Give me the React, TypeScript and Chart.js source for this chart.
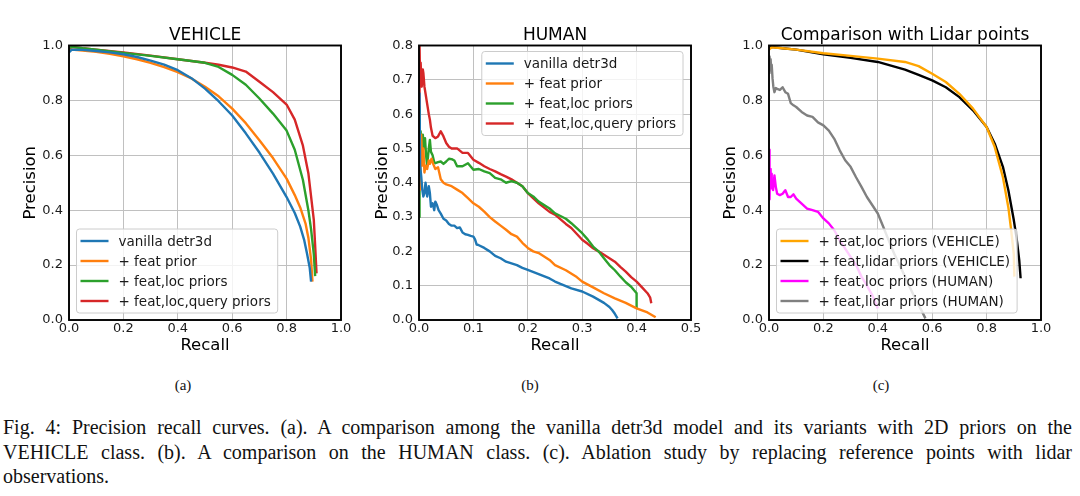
import React, { useEffect, useRef } from "react";
import { Chart, registerables } from "chart.js";

Chart.register(...registerables);
Chart.defaults.font.family = "'DejaVu Sans', sans-serif";

// ---------- (a) VEHICLE ----------
const vehVanillaR = [0, 0.01, 0.05, 0.1, 0.15, 0.2, 0.25, 0.3, 0.35, 0.4, 0.45, 0.5, 0.55, 0.6, 0.65, 0.7, 0.75, 0.8, 0.83, 0.85, 0.865, 0.875, 0.885, 0.89];
const vehVanillaP = [0.975, 0.985, 0.984, 0.98, 0.975, 0.968, 0.958, 0.945, 0.93, 0.91, 0.881, 0.843, 0.797, 0.745, 0.68, 0.61, 0.533, 0.448, 0.39, 0.34, 0.29, 0.242, 0.19, 0.14];
const vehFeatR = [0, 0.01, 0.05, 0.1, 0.15, 0.2, 0.25, 0.3, 0.35, 0.4, 0.45, 0.5, 0.55, 0.6, 0.65, 0.7, 0.75, 0.8, 0.83, 0.85, 0.87, 0.88, 0.89, 0.895];
const vehFeatP = [0.98, 0.985, 0.982, 0.977, 0.97, 0.961, 0.95, 0.937, 0.921, 0.903, 0.88, 0.85, 0.815, 0.77, 0.717, 0.655, 0.59, 0.515, 0.455, 0.41, 0.35, 0.3, 0.22, 0.14];
const vehLocR = [0, 0.01, 0.05, 0.1, 0.2, 0.3, 0.4, 0.5, 0.55, 0.6, 0.65, 0.7, 0.75, 0.8, 0.83, 0.86, 0.88, 0.89, 0.9, 0.905];
const vehLocP = [0.99, 0.995, 0.99, 0.985, 0.973, 0.962, 0.95, 0.937, 0.922, 0.893, 0.857, 0.807, 0.752, 0.69, 0.62, 0.51, 0.4, 0.33, 0.24, 0.16];
const vehQueryR = [0, 0.01, 0.05, 0.1, 0.2, 0.3, 0.4, 0.5, 0.55, 0.6, 0.65, 0.7, 0.75, 0.8, 0.83, 0.86, 0.88, 0.9, 0.905, 0.91];
const vehQueryP = [0.985, 0.995, 0.99, 0.985, 0.975, 0.963, 0.95, 0.937, 0.93, 0.92, 0.905, 0.868, 0.83, 0.785, 0.73, 0.635, 0.535, 0.365, 0.27, 0.17];

// ---------- (b) HUMAN ----------
const humVanillaR = [0, 0.001, 0.002, 0.004, 0.006, 0.008, 0.01, 0.012, 0.015, 0.018, 0.02, 0.022, 0.025, 0.028, 0.03, 0.033, 0.036, 0.04, 0.045, 0.05, 0.055, 0.06, 0.065, 0.07, 0.075, 0.08, 0.085, 0.09, 0.095, 0.1, 0.103, 0.106, 0.11, 0.12, 0.13, 0.14, 0.15, 0.16, 0.17, 0.18, 0.19, 0.2, 0.22, 0.24, 0.25, 0.26, 0.28, 0.3, 0.32, 0.34, 0.35, 0.355, 0.36, 0.365];
const humVanillaP = [0.5, 0.66, 0.45, 0.42, 0.38, 0.36, 0.37, 0.4, 0.36, 0.39, 0.37, 0.33, 0.34, 0.32, 0.345, 0.335, 0.32, 0.31, 0.295, 0.29, 0.28, 0.275, 0.275, 0.268, 0.27, 0.255, 0.25, 0.248, 0.245, 0.243, 0.235, 0.22, 0.218, 0.21, 0.2, 0.187, 0.18, 0.17, 0.165, 0.16, 0.152, 0.146, 0.134, 0.121, 0.112, 0.105, 0.092, 0.083, 0.068, 0.05, 0.038, 0.029, 0.018, 0.005];
const humFeatR = [0, 0.002, 0.004, 0.006, 0.008, 0.01, 0.012, 0.015, 0.018, 0.02, 0.023, 0.026, 0.03, 0.035, 0.04, 0.045, 0.05, 0.06, 0.07, 0.08, 0.09, 0.1, 0.11, 0.12, 0.13, 0.14, 0.15, 0.16, 0.17, 0.18, 0.19, 0.2, 0.21, 0.22, 0.24, 0.25, 0.27, 0.29, 0.3, 0.32, 0.34, 0.36, 0.38, 0.4, 0.42, 0.435];
const humFeatP = [0.4, 0.38, 0.54, 0.45, 0.5, 0.43, 0.45, 0.44, 0.465, 0.455, 0.47, 0.455, 0.44, 0.445, 0.41, 0.4, 0.395, 0.39, 0.38, 0.37, 0.355, 0.34, 0.33, 0.316, 0.3, 0.287, 0.275, 0.263, 0.25, 0.243, 0.225, 0.21, 0.2, 0.195, 0.175, 0.16, 0.145, 0.125, 0.112, 0.095, 0.078, 0.063, 0.05, 0.034, 0.022, 0.008];
const humLocR = [0, 0.001, 0.002, 0.003, 0.005, 0.007, 0.009, 0.011, 0.013, 0.015, 0.018, 0.02, 0.022, 0.025, 0.028, 0.03, 0.035, 0.04, 0.045, 0.05, 0.055, 0.06, 0.065, 0.07, 0.08, 0.09, 0.1, 0.11, 0.12, 0.13, 0.14, 0.15, 0.16, 0.17, 0.18, 0.19, 0.2, 0.21, 0.22, 0.24, 0.25, 0.27, 0.28, 0.3, 0.31, 0.32, 0.33, 0.34, 0.35, 0.36, 0.37, 0.38, 0.39, 0.4, 0.4];
const humLocP = [0.3, 0.62, 0.5, 0.55, 0.47, 0.54, 0.5, 0.53, 0.48, 0.45, 0.5, 0.525, 0.49, 0.48, 0.46, 0.457, 0.46, 0.462, 0.455, 0.462, 0.47, 0.469, 0.465, 0.448, 0.448, 0.457, 0.438, 0.44, 0.433, 0.428, 0.414, 0.41, 0.4, 0.405, 0.4, 0.39, 0.37, 0.36, 0.345, 0.325, 0.311, 0.295, 0.282, 0.253, 0.235, 0.214, 0.2, 0.18, 0.16, 0.145, 0.127, 0.11, 0.097, 0.078, 0.035];
const humQueryR = [0, 0.001, 0.002, 0.003, 0.005, 0.007, 0.008, 0.01, 0.012, 0.015, 0.018, 0.02, 0.022, 0.025, 0.03, 0.035, 0.04, 0.045, 0.05, 0.055, 0.06, 0.07, 0.08, 0.09, 0.1, 0.11, 0.12, 0.13, 0.14, 0.15, 0.16, 0.17, 0.18, 0.19, 0.2, 0.22, 0.24, 0.25, 0.27, 0.28, 0.3, 0.31, 0.32, 0.33, 0.34, 0.35, 0.36, 0.37, 0.38, 0.39, 0.4, 0.41, 0.42, 0.425, 0.427];
const humQueryP = [0.6, 0.8, 0.7, 0.75, 0.68, 0.73, 0.72, 0.68, 0.66, 0.63, 0.6, 0.584, 0.56, 0.537, 0.53, 0.535, 0.55, 0.535, 0.516, 0.505, 0.5, 0.5, 0.487, 0.487, 0.467, 0.458, 0.448, 0.44, 0.433, 0.425, 0.418, 0.41, 0.4, 0.39, 0.37, 0.34, 0.315, 0.307, 0.28, 0.268, 0.234, 0.222, 0.209, 0.2, 0.19, 0.18, 0.17, 0.155, 0.141, 0.125, 0.112, 0.095, 0.078, 0.065, 0.049];

// ---------- (c) Comparison with Lidar points ----------
const cmpVehLocR = [0, 0.01, 0.05, 0.1, 0.2, 0.3, 0.4, 0.5, 0.55, 0.6, 0.65, 0.7, 0.75, 0.8, 0.83, 0.86, 0.88, 0.89, 0.9, 0.902];
const cmpVehLocP = [0.985, 0.993, 0.99, 0.985, 0.972, 0.962, 0.952, 0.94, 0.925, 0.897, 0.867, 0.824, 0.77, 0.703, 0.63, 0.52, 0.41, 0.33, 0.24, 0.158];
const cmpVehLidarR = [0, 0.01, 0.05, 0.1, 0.2, 0.3, 0.4, 0.5, 0.55, 0.6, 0.65, 0.7, 0.75, 0.8, 0.83, 0.86, 0.88, 0.9, 0.91, 0.92, 0.925];
const cmpVehLidarP = [0.99, 0.995, 0.99, 0.985, 0.968, 0.955, 0.94, 0.912, 0.893, 0.873, 0.848, 0.812, 0.764, 0.703, 0.642, 0.558, 0.473, 0.364, 0.3, 0.218, 0.152];
const cmpHumLocR = [0, 0.002, 0.004, 0.006, 0.008, 0.01, 0.012, 0.015, 0.02, 0.025, 0.03, 0.04, 0.05, 0.06, 0.07, 0.08, 0.09, 0.1, 0.12, 0.14, 0.16, 0.18, 0.2, 0.22, 0.24, 0.26, 0.28, 0.3, 0.32, 0.34, 0.36, 0.38, 0.4];
const cmpHumLocP = [0.62, 0.44, 0.55, 0.5, 0.533, 0.48, 0.51, 0.473, 0.527, 0.485, 0.46, 0.455, 0.46, 0.473, 0.448, 0.448, 0.458, 0.442, 0.424, 0.406, 0.4, 0.394, 0.37, 0.352, 0.327, 0.29, 0.26, 0.23, 0.2, 0.158, 0.125, 0.09, 0.042];
const cmpHumLidarR = [0, 0.002, 0.004, 0.006, 0.008, 0.01, 0.013, 0.016, 0.02, 0.025, 0.03, 0.04, 0.05, 0.06, 0.07, 0.08, 0.09, 0.1, 0.12, 0.14, 0.16, 0.18, 0.2, 0.22, 0.24, 0.26, 0.28, 0.3, 0.32, 0.34, 0.36, 0.38, 0.4, 0.42, 0.44, 0.46, 0.48, 0.5, 0.52, 0.54, 0.56, 0.575];
const cmpHumLidarP = [0.9, 0.96, 0.93, 0.95, 0.91, 0.93, 0.88, 0.85, 0.83, 0.845, 0.842, 0.838, 0.848, 0.83, 0.824, 0.79, 0.782, 0.776, 0.758, 0.745, 0.74, 0.72, 0.709, 0.69, 0.66, 0.618, 0.582, 0.558, 0.52, 0.485, 0.448, 0.418, 0.388, 0.34, 0.29, 0.242, 0.2, 0.158, 0.115, 0.073, 0.036, 0.006];

// ---------- labels & ticks ----------
const labelsAB = ["vanilla detr3d", "+ feat prior", "+ feat,loc priors", "+ feat,loc,query priors"];
const colorsAB = ["#1f77b4", "#ff7f0e", "#2ca02c", "#d62728"];
const labelsC = ["+ feat,loc priors (VEHICLE)", "+ feat,lidar priors (VEHICLE)", "+ feat,loc priors (HUMAN)", "+ feat,lidar priors (HUMAN)"];
const colorsC = ["#ffa500", "#000000", "#ff00ff", "#808080"];
const titles = ["VEHICLE", "HUMAN", "Comparison with Lidar points"];
const unitTicks = [0, 0.2, 0.4, 0.6, 0.8, 1.0];
const unitTickLabels = ["0.0", "0.2", "0.4", "0.6", "0.8", "1.0"];
const humXTicks = [0, 0.1, 0.2, 0.3, 0.4, 0.5];
const humXTickLabels = ["0.0", "0.1", "0.2", "0.3", "0.4", "0.5"];
const humYTicks = [0, 0.1, 0.2, 0.3, 0.4, 0.5, 0.6, 0.7, 0.8];
const humYTickLabels = ["0.0", "0.1", "0.2", "0.3", "0.4", "0.5", "0.6", "0.7", "0.8"];
const subCaptions = ["(a)", "(b)", "(c)"];
const captionLines = [
  "Fig. 4: Precision recall curves. (a). A comparison among the vanilla detr3d model and its variants with 2D priors on the",
  "VEHICLE class. (b). A comparison on the HUMAN class. (c). Ablation study by replacing reference points with lidar",
  "observations.",
];

const toPts = (r: number[], p: number[]) => r.map((x, i) => ({ x, y: p[i] }));

const frameLegendPlugin = {
  id: "mplFrameLegend",
  afterDatasetsDraw(chart: any, _args: any, opts: any) {
    const { ctx, chartArea: a } = chart;
    ctx.save();
    ctx.strokeStyle = "#000";
    ctx.lineWidth = 1.9;
    ctx.strokeRect(a.left, a.top, a.right - a.left, a.bottom - a.top);
    const ds = chart.data.datasets;
    ctx.font = "13.5px 'DejaVu Sans'";
    const textW = Math.max(...ds.map((d: any) => ctx.measureText(d.label).width));
    const w = 4 + 28 + 10 + textW + 7;
    const h = 24 + (ds.length - 1) * 20;
    let x0: number, y0: number;
    if (opts.loc === "upper right") {
      x0 = a.right - 8 - w;
      y0 = a.top + 6;
    } else {
      x0 = a.left + 7.5;
      y0 = a.bottom - 7 - h;
    }
    ctx.beginPath();
    ctx.roundRect(x0, y0, w, h, 3);
    ctx.fillStyle = "rgba(255,255,255,0.8)";
    ctx.fill();
    ctx.strokeStyle = "#cccccc";
    ctx.lineWidth = 1;
    ctx.stroke();
    ds.forEach((d: any, i: number) => {
      const cy = y0 + 12 + i * 20;
      ctx.beginPath();
      ctx.moveTo(x0 + 4, cy);
      ctx.lineTo(x0 + 32, cy);
      ctx.strokeStyle = d.borderColor;
      ctx.lineWidth = d.borderWidth;
      ctx.stroke();
      ctx.fillStyle = "#1a1a1a";
      ctx.textBaseline = "middle";
      ctx.textAlign = "left";
      ctx.fillText(d.label, x0 + 42, cy + 1);
    });
    ctx.restore();
  },
};

type PanelProps = {
  left: number;
  width: number;
  yAxisW: number;
  padRight: number;
  yTitlePad: number;
  title: string;
  series: { label: string; color: string; r: number[]; p: number[] }[];
  xMax: number;
  yMax: number;
  xTicks: number[];
  xLabels: string[];
  yTicks: number[];
  yLabels: string[];
  loc: string;
};

function Panel(props: PanelProps) {
  const ref = useRef<HTMLCanvasElement>(null);
  useEffect(() => {
    const grid = { color: "#c0c0c0", lineWidth: 1, drawTicks: false };
    const chart = new Chart(ref.current as HTMLCanvasElement, {
      type: "line",
      data: {
        datasets: props.series.map((s) => ({
          label: s.label,
          data: toPts(s.r, s.p),
          borderColor: s.color,
          backgroundColor: s.color,
          borderWidth: 2.4,
          pointRadius: 0,
          tension: 0,
          fill: false,
          borderJoinStyle: "round",
        })),
      },
      options: {
        animation: false,
        responsive: false,
        maintainAspectRatio: false,
        events: [],
        layout: { padding: { left: 0, right: props.padRight, top: 0, bottom: 0 } },
        plugins: {
          legend: { display: false },
          tooltip: { enabled: false },
          title: {
            display: true,
            text: props.title,
            fullSize: false,
            color: "#000",
            font: { size: 17, lineHeight: 1, weight: "normal" },
            padding: { top: 27.5, bottom: 1 },
          },
          mplFrameLegend: { loc: props.loc },
        } as any,
        scales: {
          x: {
            type: "linear",
            min: 0,
            max: props.xMax,
            afterBuildTicks: (s: any) => {
              s.ticks = props.xTicks.map((v) => ({ value: v }));
            },
            afterFit: (s: any) => {
              s.height = 40;
            },
            ticks: {
              callback: (_v: any, i: number) => props.xLabels[i],
              font: { size: 13 },
              color: "#1a1a1a",
              padding: 0.5,
              maxRotation: 0,
              autoSkip: false,
            },
            grid,
            border: { display: false },
            title: {
              display: true,
              text: "Recall",
              color: "#000",
              font: { size: 16.5 },
              padding: { top: 0, bottom: 4 },
            },
          },
          y: {
            type: "linear",
            min: 0,
            max: props.yMax,
            afterBuildTicks: (s: any) => {
              s.ticks = props.yTicks.map((v) => ({ value: v }));
            },
            afterFit: (s: any) => {
              s.width = props.yAxisW;
            },
            ticks: {
              callback: (_v: any, i: number) => props.yLabels[i],
              font: { size: 13 },
              color: "#1a1a1a",
              padding: 6,
              autoSkip: false,
            },
            grid,
            border: { display: false },
            title: {
              display: true,
              text: "Precision",
              color: "#000",
              font: { size: 16.5 },
              padding: { top: props.yTitlePad, bottom: 0 },
            },
          },
        } as any,
      },
      plugins: [frameLegendPlugin as any],
    } as any);
    return () => chart.destroy();
  }, []);
  return (
    <canvas
      ref={ref}
      width={props.width}
      height={360}
      style={{ position: "absolute", left: props.left, top: 0, width: props.width, height: 360 }}
    />
  );
}

export default function App() {
  const seriesA = [
    { label: labelsAB[0], color: colorsAB[0], r: vehVanillaR, p: vehVanillaP },
    { label: labelsAB[1], color: colorsAB[1], r: vehFeatR, p: vehFeatP },
    { label: labelsAB[2], color: colorsAB[2], r: vehLocR, p: vehLocP },
    { label: labelsAB[3], color: colorsAB[3], r: vehQueryR, p: vehQueryP },
  ];
  const seriesB = [
    { label: labelsAB[0], color: colorsAB[0], r: humVanillaR, p: humVanillaP },
    { label: labelsAB[1], color: colorsAB[1], r: humFeatR, p: humFeatP },
    { label: labelsAB[2], color: colorsAB[2], r: humLocR, p: humLocP },
    { label: labelsAB[3], color: colorsAB[3], r: humQueryR, p: humQueryP },
  ];
  const seriesC = [
    { label: labelsC[0], color: colorsC[0], r: cmpVehLocR, p: cmpVehLocP },
    { label: labelsC[1], color: colorsC[1], r: cmpVehLidarR, p: cmpVehLidarP },
    { label: labelsC[2], color: colorsC[2], r: cmpHumLocR, p: cmpHumLocP },
    { label: labelsC[3], color: colorsC[3], r: cmpHumLidarR, p: cmpHumLidarP },
  ];
  const subX = [183, 530, 881];
  const serif = "'Liberation Serif', 'Times New Roman', serif";
  return (
    <div style={{ position: "absolute", left: 0, top: 0, width: 1080, height: 496, background: "#fff", overflow: "hidden" }}>
      <Panel left={0} width={360} yAxisW={69} padRight={19} yTitlePad={20.6} title={titles[0]} series={seriesA}
        xMax={1} yMax={1} xTicks={unitTicks} xLabels={unitTickLabels} yTicks={unitTicks} yLabels={unitTickLabels} loc="lower left" />
      <Panel left={360} width={350} yAxisW={59} padRight={19} yTitlePad={12.6} title={titles[1]} series={seriesB}
        xMax={0.5} yMax={0.8} xTicks={humXTicks} xLabels={humXTickLabels} yTicks={humYTicks} yLabels={humYTickLabels} loc="upper right" />
      <Panel left={710} width={370} yAxisW={59} padRight={39} yTitlePad={11.1} title={titles[2]} series={seriesC}
        xMax={1} yMax={1} xTicks={unitTicks} xLabels={unitTickLabels} yTicks={unitTicks} yLabels={unitTickLabels} loc="lower left" />
      {subCaptions.map((t, i) => (
        <div key={t} style={{ position: "absolute", left: subX[i] - 50, width: 100, top: 374.7, textAlign: "center",
          fontFamily: serif, fontSize: 15, lineHeight: "20px", color: "#111" }}>{t}</div>
      ))}
      {captionLines.map((t, i) => (
        <div key={i} style={{ position: "absolute", left: 3, width: 1069, top: 415 + i * 24.5, fontFamily: serif,
          fontSize: 20, lineHeight: "24.5px", color: "#111", textAlign: "justify",
          textAlignLast: i < 2 ? "justify" : "left", whiteSpace: "nowrap" } as any}>{t}</div>
      ))}
    </div>
  );
}
